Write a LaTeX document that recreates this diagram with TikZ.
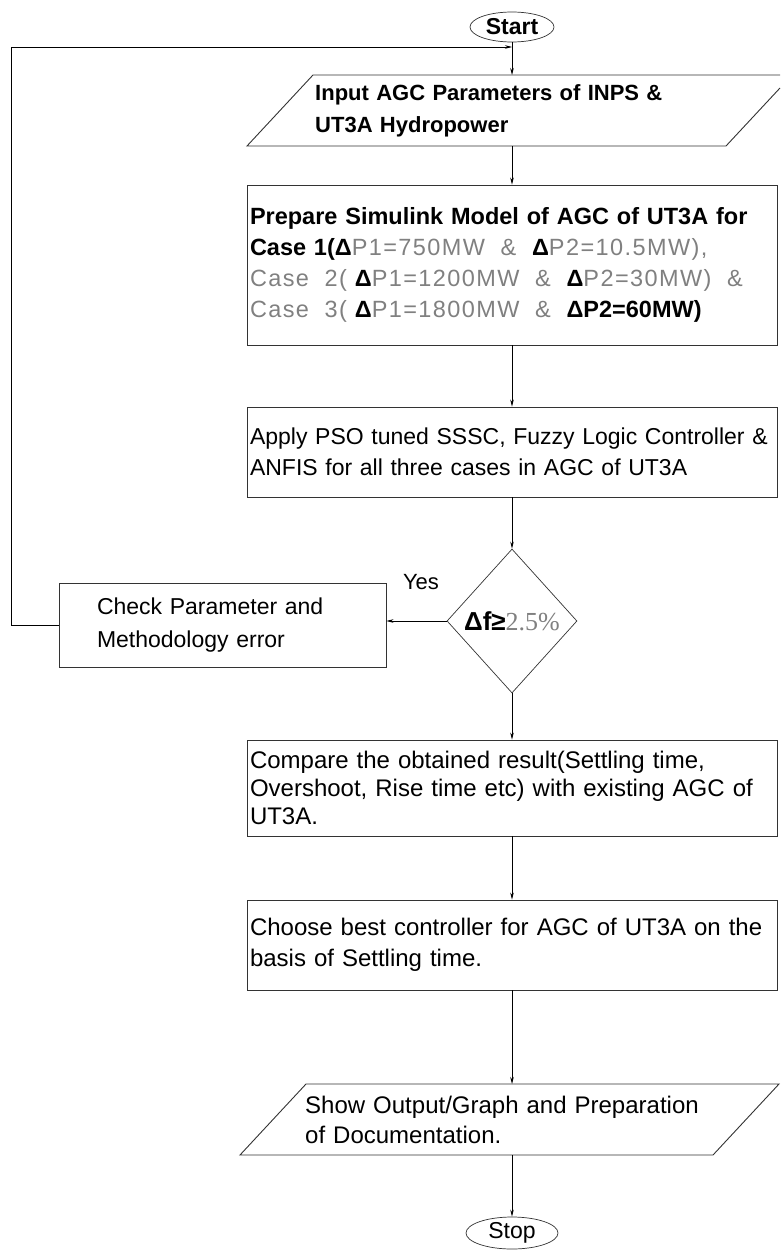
\documentclass[tikz,border=0pt]{standalone}
\usepackage{fontspec}
\setmainfont{Liberation Sans}
\newfontfamily\thinsans[LetterSpace=6.0]{Liberation Sans}
\newfontfamily\thinserif{Liberation Serif}
\usetikzlibrary{arrows.meta,shapes.geometric}

\definecolor{thingray}{gray}{0.5}
\newcommand{\thintxt}[1]{{\thinsans\color{thingray}#1}}

\tikzset{
  boxline/.style={draw=black!80, line width=0.9pt},
  flowbox/.style={boxline, rectangle, minimum width=530pt, text width=524pt,
    align=left, inner xsep=0pt, font=\fontsize{24}{31}\selectfont},
  termnode/.style={boxline, line width=0.7pt, ellipse, minimum width=84pt,
    minimum height=30pt, inner sep=0pt},
  iotext/.style={anchor=north west, minimum height=71pt, text width=440pt,
    align=left, inner xsep=0pt},
  flowline/.style={line width=0.7pt, -{Stealth[length=7pt,width=3.5pt]}},
}

\begin{document}
\begin{tikzpicture}[x=1pt,y=-1pt]
    \useasboundingbox (0,0) rectangle (780,1250);

    % Start and Stop
    \node[termnode, font=\bfseries\fontsize{23}{23}\selectfont] (start) at (512,27) {Start};
    \node[termnode, minimum width=92pt, minimum height=32pt, font=\fontsize{23}{23}\selectfont] (stop) at (512,1233) {Stop};

    % Input parallelogram
    \node[iotext, font=\bfseries\fontsize{22}{32}\selectfont] (input) at (315,75) {Input AGC Parameters of INPS \&\\UT3A Hydropower};
    \draw[boxline] (780,75) -- (313,75) -- (247,146) -- (726,146) -- (780,88);

    % Process boxes
    \node[flowbox, minimum height=160pt, font=\fontsize{23.5}{31}\selectfont] (prep) at (512,265) {\textbf{Prepare Simulink Model of AGC of UT3A for}\\
        \textbf{Case 1(Δ}\thintxt{P1=750MW ~\&~ }\textbf{Δ}\thintxt{P2=10.5MW),}\\
        \thintxt{Case ~2(~}\textbf{Δ}\thintxt{P1=1200MW ~\&~ }\textbf{Δ}\thintxt{P2=30MW) ~\&}\\
        \thintxt{Case ~3(~}\textbf{Δ}\thintxt{P1=1800MW ~\&~ }\textbf{ΔP2=60MW)}};
    \node[flowbox, minimum height=90pt, font=\fontsize{23}{31}\selectfont] (apply) at (512,452) {Apply PSO tuned SSSC, Fuzzy Logic Controller \&\\ANFIS for all three cases in AGC of UT3A};

    % Decision
    \node[boxline, line width=0.7pt, diamond, minimum width=130pt, minimum height=144pt, inner sep=0pt, font=\fontsize{26}{26}\selectfont] (dfcheck) at (512,621) {\textbf{Δf≥}{\thinserif\color{thingray}2.5\%}};
    \node[font=\fontsize{22}{22}\selectfont] (yes) at (421,582) {Yes};
    \node[flowbox, minimum width=327pt, text width=251pt, minimum height=84pt, font=\fontsize{23}{33}\selectfont] (check) at (222.5,625) {Check Parameter and\\Methodology error};

    \node[flowbox, minimum height=96pt, font=\fontsize{24}{28}\selectfont] (compare) at (512,788) {Compare the obtained result(Settling time,\\Overshoot, Rise time etc) with existing AGC of\\UT3A.};
    \node[flowbox, minimum height=90pt] (choose) at (512,945) {Choose best controller for AGC of UT3A on the\\basis of Settling time.};

    % Output parallelogram
    \node[iotext, font=\fontsize{24}{30}\selectfont] (outp) at (305,1084) {Show Output/Graph and Preparation\\of Documentation.};
    \draw[boxline] (240,1155) -- (306,1084) -- (779,1084) -- (713,1155) -- cycle;

    % Connectors
    \coordinate (loopend) at (512,47);
    \draw[flowline] (start) -- (start |- input.north);
    \draw[flowline] (start |- input.south) -- (prep);
    \draw[flowline] (prep) -- (apply);
    \draw[flowline] (apply) -- (dfcheck);
    \draw[flowline] (dfcheck.west) -- (dfcheck.west -| check.east);
    \draw[flowline] (check.west) -- ++(-47,0) |- (loopend);
    \draw[flowline] (dfcheck) -- (compare);
    \draw[flowline] (compare) -- (choose);
    \draw[flowline] (choose) -- (choose |- outp.north);
    \draw[flowline] (choose |- outp.south) -- (stop);
\end{tikzpicture}
\end{document}
